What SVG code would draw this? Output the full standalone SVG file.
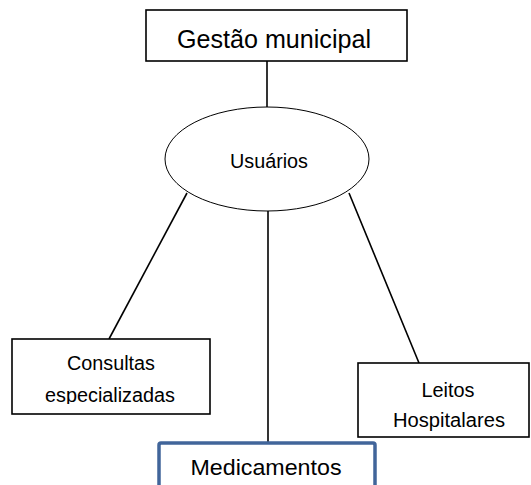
<svg xmlns="http://www.w3.org/2000/svg" width="531" height="485" viewBox="0 0 531 485">
<style>
.box{fill:#fff;stroke:#000;stroke-width:1.6}
.lbl{font-family:"Liberation Sans",Arial,sans-serif;fill:#000;text-anchor:middle;font-size:19.5px}
.con{stroke:#000;stroke-width:1.6;fill:none}
</style>
<defs>
<clipPath id="cc"><rect x="12" y="339" width="198" height="65"/></clipPath>
<clipPath id="cl"><rect x="358" y="363" width="171" height="69"/></clipPath>
</defs>
<rect width="531" height="485" fill="#fff"/>
<g id="connectors">
<line class="con" x1="267" y1="61" x2="267" y2="107"/>
<line class="con" x1="187" y1="193" x2="109" y2="339"/>
<line class="con" x1="268" y1="211" x2="268" y2="443"/>
<line class="con" x1="349" y1="193" x2="419" y2="363"/>
</g>
<g id="gestao">
<rect class="box" x="146" y="10" width="261" height="51"/>
<text class="lbl" x="274" y="48" style="font-size:25px" textLength="194" lengthAdjust="spacingAndGlyphs">Gestão municipal</text>
</g>
<g id="usuarios">
<ellipse cx="267" cy="159" rx="102" ry="52" fill="#fff" stroke="#000" stroke-width="1"/>
<text class="lbl" x="269" y="168" textLength="78" lengthAdjust="spacingAndGlyphs">Usuários</text>
</g>
<g id="consultas">
<rect class="box" x="12" y="339" width="198" height="75"/>
<g clip-path="url(#cc)">
<text class="lbl" x="111" y="370" textLength="88" lengthAdjust="spacingAndGlyphs">Consultas</text>
<text class="lbl" x="110" y="402" textLength="130" lengthAdjust="spacingAndGlyphs">especializadas</text>
</g>
</g>
<g id="leitos">
<rect class="box" x="358" y="363" width="171" height="74"/>
<g clip-path="url(#cl)">
<text class="lbl" x="448" y="397" textLength="53" lengthAdjust="spacingAndGlyphs">Leitos</text>
<text class="lbl" x="449" y="427" textLength="112" lengthAdjust="spacingAndGlyphs">Hospitalares</text>
</g>
</g>
<g id="medicamentos">
<rect x="159" y="443" width="216" height="60" rx="2" fill="#fff" stroke="#41659A" stroke-width="3.5"/>
<text class="lbl" x="266" y="475" style="font-size:22px" textLength="151" lengthAdjust="spacingAndGlyphs">Medicamentos</text>
</g>
</svg>
